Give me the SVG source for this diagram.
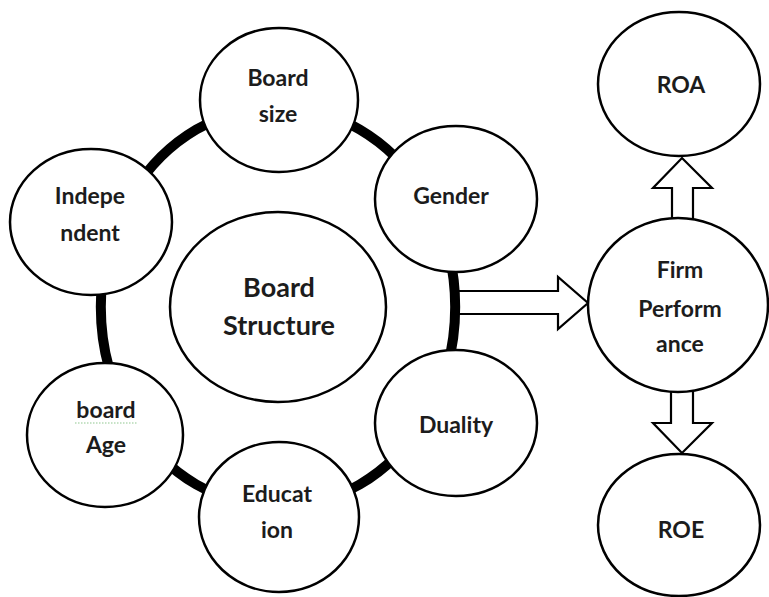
<svg xmlns="http://www.w3.org/2000/svg" width="769" height="597" viewBox="0 0 769 597">
<style>
.node ellipse{fill:#fff;stroke:#000;stroke-width:2.5}
.ring{fill:none;stroke:#000;stroke-width:10}
.blk{fill:#fff;stroke:#000;stroke-width:2.2;stroke-linejoin:miter}
text{font-family:Lato,"Open Sans","Liberation Sans",sans-serif;font-weight:bold;font-size:23px;fill:#1c1c1c;text-anchor:middle}
.big{font-size:27px}
</style>
<rect width="769" height="597" fill="#fff"/>
<g id="connectors">
<polygon class="blk" points="455,291 558,291 558,277 588,303 558,329 558,314 455,314"/>
<polygon class="blk" points="672,225 672,188 653,188 682,158 712,188 693,188 693,225"/>
<polygon class="blk" points="671,385 671,423 653,423 682,453 712,423 693,423 693,385"/>
<path class="ring" d="M278,107 A177,200 0 0 1 423,192"/>
<path class="ring" d="M423,192 A177,200 0 0 1 423,422"/>
<path class="ring" d="M423,422 A177,200 0 0 1 278,507"/>
<path class="ring" d="M278,507 A177,200 0 0 1 133,422"/>
<path class="ring" d="M133,422 A177,200 0 0 1 133,192"/>
<path class="ring" d="M133,192 A177,200 0 0 1 278,107"/>
</g>
<g id="board-size" class="node"><ellipse cx="279" cy="100" rx="79" ry="72"/><text x="278" y="86">Board</text><text x="278" y="122">size</text></g>
<g id="independent" class="node"><ellipse cx="91" cy="222" rx="81" ry="73"/><text x="90" y="204">Indepe</text><text x="90" y="241">ndent</text></g>
<g id="gender" class="node"><ellipse cx="456" cy="199" rx="81" ry="73"/><text x="451" y="204">Gender</text></g>
<g id="board-structure" class="node"><ellipse cx="278" cy="307" rx="108" ry="95"/><text class="big" x="279" y="297">Board</text><text class="big" x="279" y="335">Structure</text></g>
<g id="board-age" class="node"><ellipse cx="105" cy="435" rx="78" ry="72"/><text x="106" y="418">board</text><line x1="75" y1="423" x2="138" y2="423" stroke="#8fc88f" stroke-width="1.2" stroke-dasharray="1.5 1.5"/><text x="106" y="453">Age</text></g>
<g id="education" class="node"><ellipse cx="279" cy="517" rx="80" ry="75"/><text x="277" y="502">Educat</text><text x="277" y="538">ion</text></g>
<g id="duality" class="node"><ellipse cx="456" cy="423" rx="81" ry="73"/><text x="456" y="433">Duality</text></g>
<g id="roa" class="node"><ellipse cx="679" cy="84" rx="81" ry="72"/><text x="681" y="93">ROA</text></g>
<g id="firm-performance" class="node"><ellipse cx="678" cy="305" rx="90" ry="87"/><text x="680" y="278">Firm</text><text x="680" y="317">Perform</text><text x="680" y="352">ance</text></g>
<g id="roe" class="node"><ellipse cx="679" cy="525" rx="81" ry="71"/><text x="681" y="538">ROE</text></g>
</svg>
